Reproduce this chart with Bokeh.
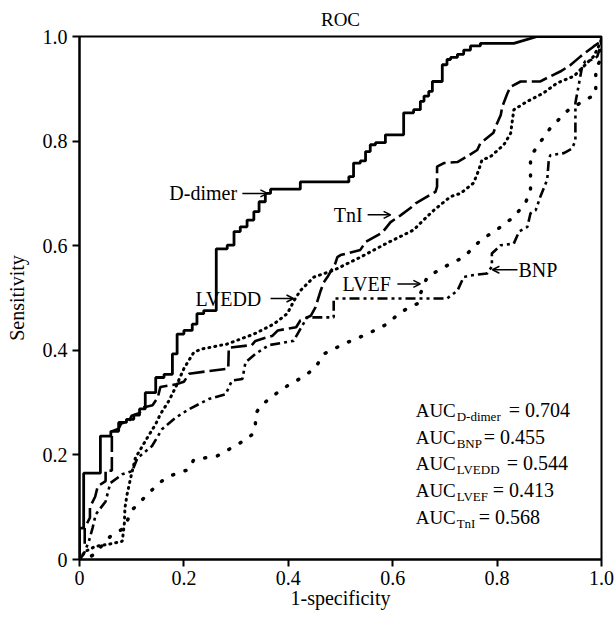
from bokeh.plotting import figure
from bokeh.models import Label, Arrow, OpenHead, FixedTicker, Range1d
from bokeh.embed import file_html
from bokeh.resources import INLINE

FONT = "Liberation Serif"

ddimer_pts = [(0,0),(0,.06),(.008,.06),(.008,.165),(.04,.165),(.04,.236),(.06,.236),(.06,.245),(.075,.245),
              (.075,.262),(.09,.262),(.09,.268),(.104,.268),(.104,.276),(.115,.276),(.115,.288),(.126,.288),
              (.126,.319),(.146,.319),(.146,.348),(.162,.348),(.162,.354),(.178,.354),(.178,.393),(.187,.393),
              (.187,.431),(.2,.431),(.2,.438),(.216,.438),(.216,.45),(.225,.45),(.225,.47),(.238,.47),(.238,.476),
              (.262,.476),(.262,.594),(.283,.594),(.283,.601),(.296,.601),(.296,.627),(.308,.627),(.308,.636),
              (.321,.636),(.321,.649),(.334,.649),(.334,.665),(.344,.665),(.344,.684),(.356,.684),(.356,.70),
              (.366,.70),(.366,.708),(.423,.708),(.423,.722),(.516,.722),(.516,.732),(.525,.732),(.525,.758),
              (.538,.758),(.538,.762),(.548,.762),(.548,.78),(.557,.78),(.557,.793),(.567,.793),(.567,.797),
              (.586,.797),(.586,.812),(.621,.812),(.621,.854),(.64,.854),(.64,.86),(.653,.86),(.653,.876),
              (.66,.876),(.66,.886),(.669,.886),(.669,.895),(.676,.895),(.676,.914),(.695,.914),(.695,.946),
              (.704,.946),(.704,.956),(.711,.956),(.711,.96),(.724,.96),(.724,.966),(.736,.966),(.736,.974),
              (.749,.974),(.749,.982),(.768,.982),(.768,.987),(.832,.987),(.877,1.0),(1.0,1.0)]
ddimer_fpr = [p[0] for p in ddimer_pts]
ddimer_tpr = [p[1] for p in ddimer_pts]

tni_pts = [(0,0),(0,.03),(.01,.03),(.01,.06),(.02,.08),(.02,.10),(.03,.12),(.035,.14),(.05,.15),(.05,.17),
           (.062,.17),(.062,.245),(.075,.25),(.08,.26),(.095,.265),(.10,.275),(.115,.28),(.12,.29),(.14,.295),
           (.15,.31),(.155,.33),(.185,.335),(.2,.34),(.21,.355),(.245,.36),(.285,.365),(.286,.405),(.33,.41),
           (.337,.418),(.37,.428),(.38,.438),(.415,.444),(.423,.457),(.443,.466),(.452,.482),(.462,.514),
           (.468,.53),(.475,.54),(.49,.566),(.494,.578),(.50,.582),(.538,.592),(.548,.607),(.58,.625),
           (.596,.645),(.615,.658),(.634,.672),(.644,.681),(.682,.703),(.685,.713),(.685,.751),(.698,.758),
           (.724,.76),(.745,.772),(.762,.783),(.768,.796),(.793,.816),(.797,.827),(.807,.85),(.81,.866),
           (.82,.892),(.826,.904),(.845,.914),(.883,.914),(.896,.921),(.921,.933),(.94,.945),(.96,.962),
           (.985,.981),(.998,.99),(1.0,1.0)]
tni_fpr = [p[0] for p in tni_pts]
tni_tpr = [p[1] for p in tni_pts]

lvedd_pts = [(0,0),(.01,.015),(.03,.025),(.06,.03),(.082,.035),(.086,.07),(.087,.098),(.091,.124),(.098,.156),
             (.107,.194),(.13,.233),(.146,.259),(.155,.278),(.171,.303),(.184,.329),(.2,.365),(.209,.38),
             (.219,.396),(.232,.402),(.283,.412),(.334,.431),(.372,.45),(.398,.47),(.411,.495),(.423,.514),
             (.449,.54),(.487,.553),(.538,.578),(.589,.605),(.64,.63),(.66,.65),(.679,.668),(.711,.694),
             (.73,.70),(.755,.72),(.765,.745),(.771,.764),(.787,.77),(.813,.793),(.826,.815),(.832,.86),
             (.858,.876),(.889,.892),(.915,.911),(.947,.924),(.966,.943),(.985,.962),(.998,.988),(1.0,1.0)]
lvedd_fpr = [p[0] for p in lvedd_pts]
lvedd_tpr = [p[1] for p in lvedd_pts]

bnp_pts = [(0,0),(.008,.01),(.018,.035),(.025,.06),(.031,.086),(.05,.111),(.059,.146),(.082,.163),(.101,.169),
           (.111,.194),(.139,.217),(.158,.249),(.184,.271),(.209,.287),(.248,.307),(.28,.316),(.292,.342),
           (.312,.345),(.318,.377),(.337,.393),(.363,.41),(.41,.418),(.436,.463),(.487,.463),(.487,.499),
           (.704,.499),(.724,.514),(.736,.54),(.749,.543),(.781,.547),(.79,.56),(.79,.585),(.807,.601),
           (.832,.604),(.842,.627),(.858,.636),(.864,.662),(.874,.668),(.883,.694),(.896,.726),(.899,.764),
           (.902,.773),(.928,.777),(.944,.786),(.95,.802),(.95,.873),(.956,.905),(.963,.943),(.969,.953),
           (.985,.956),(.992,.962),(1.0,.988),(1.0,1.0)]
bnp_fpr = [p[0] for p in bnp_pts]
bnp_tpr = [p[1] for p in bnp_pts]

lvef_pts = [(0,0),(.01,0),(.027,.009),(.059,.044),(.085,.06),(.101,.095),(.13,.124),(.152,.146),(.171,.159),
            (.209,.172),(.219,.191),(.264,.198),(.308,.223),(.331,.239),(.337,.259),(.337,.278),(.347,.294),
            (.375,.316),(.398,.332),(.43,.35),(.452,.367),(.468,.393),(.506,.412),(.551,.431),(.589,.45),
            (.615,.473),(.647,.489),(.653,.508),(.666,.54),(.698,.559),(.736,.578),(.768,.61),(.807,.636),
            (.832,.655),(.854,.681),(.864,.706),(.864,.77),(.877,.79),(.902,.825),(.921,.844),(.937,.86),
            (.953,.869),(.969,.879),(.989,.889),(.989,.937),(1.0,.96),(1.0,1.0)]
lvef_fpr = [p[0] for p in lvef_pts]
lvef_tpr = [p[1] for p in lvef_pts]

auc_names = ["D-dimer", "BNP", "LVEDD", "LVEF", "TnI"]
auc_values = [0.704, 0.455, 0.544, 0.413, 0.568]
ticks = [0, 0.2, 0.4, 0.6, 0.8, 1.0]
tick_labels = ["0", "0.2", "0.4", "0.6", "0.8", "1.0"]

p = figure(width=616, height=614, output_backend="svg", toolbar_location=None,
           x_range=Range1d(0, 1), y_range=Range1d(0, 1),
           min_border_left=79, min_border_right=15, min_border_top=0, min_border_bottom=55)
p.background_fill_color = "white"
p.border_fill_color = "white"
p.grid.visible = False
p.outline_line_color = "black"
p.outline_line_width = 2

p.title.text = "ROC"
p.title.align = "center"
p.title.text_font = FONT
p.title.text_font_style = "normal"
p.title.text_font_size = "19px"
p.title.text_color = "black"
p.title.standoff = 13

for ax in (p.xaxis[0], p.yaxis[0]):
    ax.ticker = FixedTicker(ticks=ticks)
    ax.major_label_overrides = dict(zip(ticks, tick_labels))
    ax.axis_line_width = 2
    ax.axis_line_color = "black"
    ax.major_tick_line_width = 2
    ax.major_tick_line_color = "black"
    ax.major_tick_out = 7
    ax.major_tick_in = 0
    ax.minor_tick_out = 0
    ax.minor_tick_in = 0
    ax.major_label_text_font = FONT
    ax.major_label_text_font_size = "20px"
    ax.major_label_text_color = "black"
    ax.axis_label_text_font = FONT
    ax.axis_label_text_font_size = "20px"
    ax.axis_label_text_font_style = "normal"
    ax.axis_label_text_color = "black"

p.xaxis.axis_label = "1-specificity"
p.yaxis.axis_label = "Sensitivity"
p.xaxis.major_label_standoff = 4
p.xaxis.axis_label_standoff = -1
p.yaxis.major_label_standoff = 5
p.yaxis.axis_label_standoff = 12

p.line(lvef_fpr, lvef_tpr, line_color="black", line_width=3.5, line_dash="1 12", line_cap="round")
p.line(bnp_fpr, bnp_tpr, line_color="black", line_width=2.6, line_dash="10 4 3 4 3 4")
p.line(lvedd_fpr, lvedd_tpr, line_color="black", line_width=3, line_dash="1 5", line_cap="round")
p.line(tni_fpr, tni_tpr, line_color="black", line_width=2.6, line_dash="16 5")
p.line(ddimer_fpr, ddimer_tpr, line_color="black", line_width=2.8)

# curve labels with arrows
curve_labels = [
    ("D-dimer", 0.172, 0.700, 0.312, 0.360),
    ("TnI", 0.487, 0.659, 0.552, 0.596),
    ("LVEDD", 0.222, 0.499, 0.366, 0.410),
    ("LVEF", 0.504, 0.527, 0.609, 0.653),
]
for txt, tx, ty, ax0, ax1 in curve_labels:
    p.add_layout(Label(x=tx, y=ty, text=txt, text_font=FONT, text_font_size="20px",
                       text_baseline="middle", text_align="left", text_color="black"))
    p.add_layout(Arrow(end=OpenHead(size=7, line_width=1.5, line_color="black"),
                       x_start=ax0, y_start=ty, x_end=ax1, y_end=ty,
                       line_width=1.5, line_color="black"))
p.add_layout(Label(x=0.841, y=0.554, text="BNP", text_font=FONT, text_font_size="20px",
                   text_baseline="middle", text_align="left", text_color="black"))
p.add_layout(Arrow(end=OpenHead(size=7, line_width=1.5, line_color="black"),
                   x_start=0.839, y_start=0.554, x_end=0.791, y_end=0.554,
                   line_width=1.5, line_color="black"))

# AUC block
auc_x = 0.644
auc_y = [0.2854, 0.2337, 0.1839, 0.1322, 0.0805]
eq_offsets = [93, 68, 91, 77, 63]
for name, val, yy, off in zip(auc_names, auc_values, auc_y, eq_offsets):
    p.add_layout(Label(x=auc_x, y=yy, text="AUC", text_font=FONT, text_font_size="19px",
                       text_baseline="middle", text_color="black"))
    p.add_layout(Label(x=auc_x, y=yy, x_offset=41, y_offset=-6, text=name, text_font=FONT,
                       text_font_size="13px", text_baseline="middle", text_color="black"))
    p.add_layout(Label(x=auc_x, y=yy, x_offset=off, text="= %.3f" % val, text_font=FONT,
                       text_font_size="20px", text_baseline="middle", text_color="black"))

open("out.html", "w").write(file_html(p, INLINE))
